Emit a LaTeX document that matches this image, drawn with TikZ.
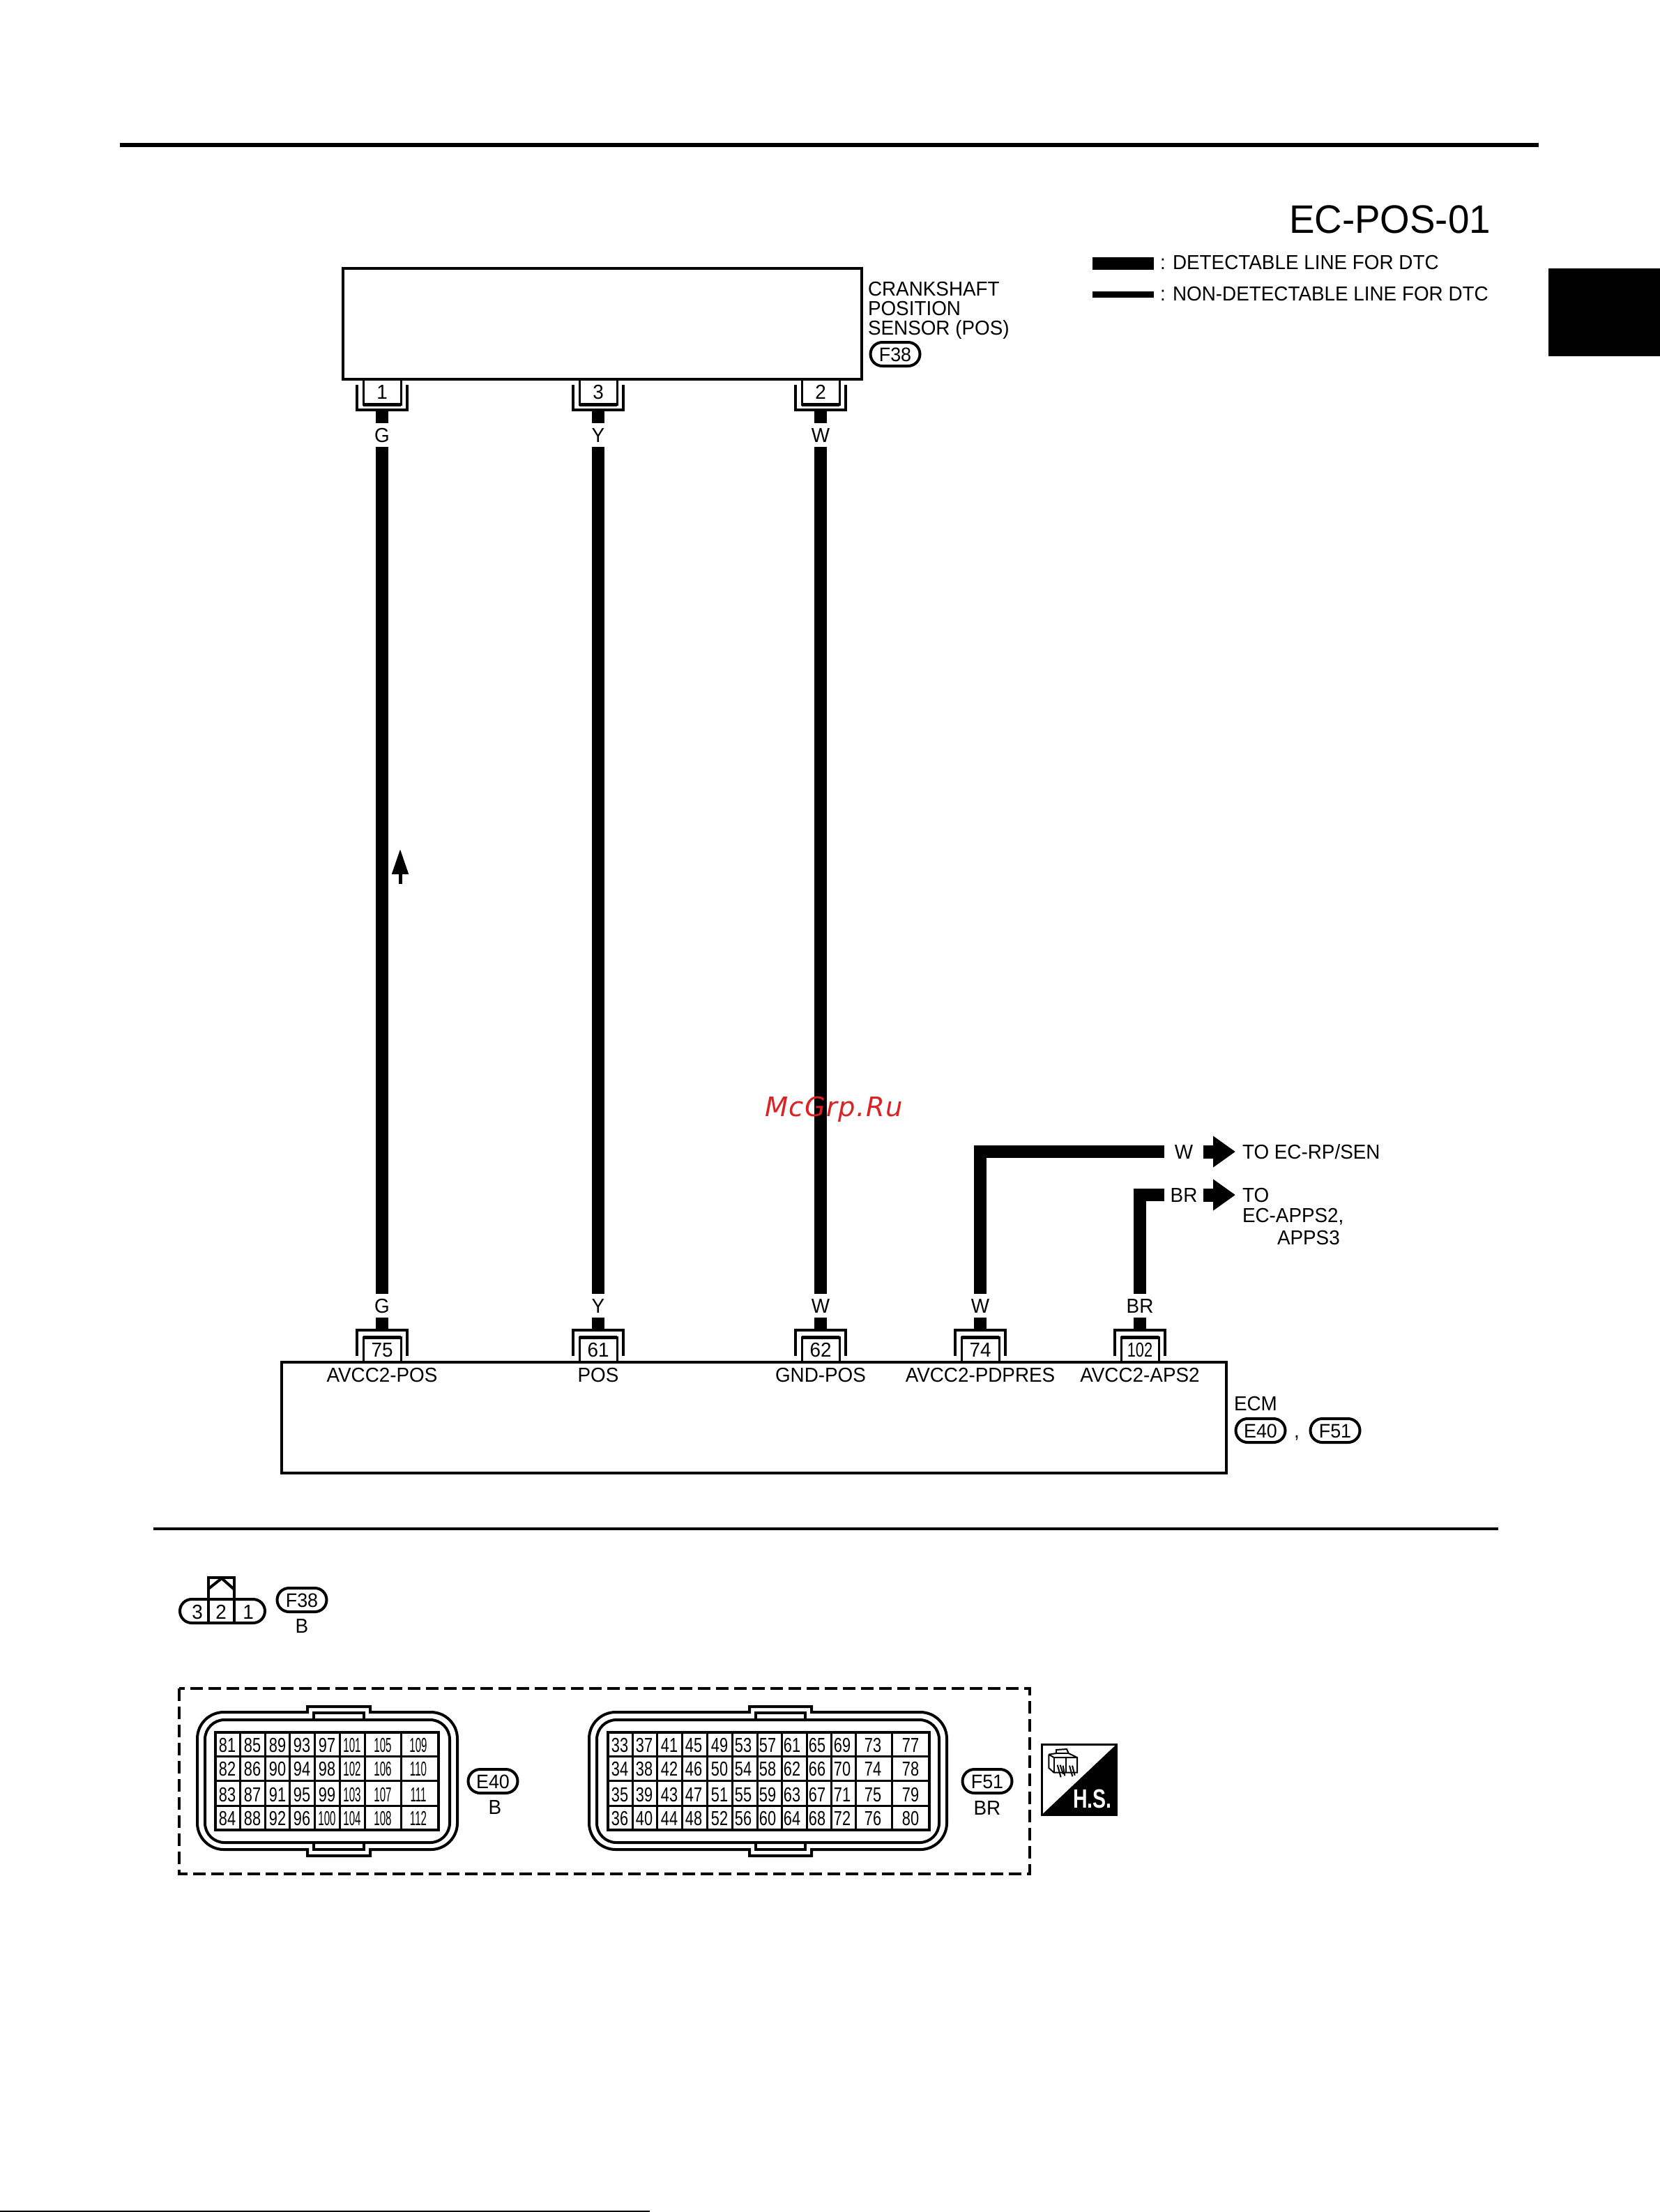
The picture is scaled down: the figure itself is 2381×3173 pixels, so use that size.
\documentclass[tikz,border=0pt]{standalone}
\usepackage{fontspec}
\setmainfont[FakeStretch=0.96]{Liberation Sans}
\newfontfamily\narrowfont[FakeStretch=0.75]{Liberation Sans}
\newfontfamily\narrowerfont[FakeStretch=0.52]{Liberation Sans}
\newfontfamily\markfont[LetterSpace=3.5]{DejaVu Sans}
\usetikzlibrary{arrows.meta}
\definecolor{markred}{RGB}{220, 35, 35}

% outer and inner wall of a multi-pin connector: left, right, tab left, tab right
\newcommand{\connshell}[4]{
  \draw[shell] (#3,2456) [rounded corners=38pt] -- (#1,2456) -- (#1,2653) [sharp corners]
    -- (#3,2653) -- (#3,2662) -- (#4,2662) -- (#4,2653) [rounded corners=38pt]
    -- (#2,2653) -- (#2,2456) [sharp corners] -- (#4,2456) -- (#4,2448) -- (#3,2448) -- cycle;
  \draw[shell, rounded corners=28pt] (#1+11,2467) rectangle (#2-11,2643);
  \draw[shell] (#3+9,2467) |- (#4-9,2457) -- (#4-9,2467);
  \draw[shell] (#3+9,2643) |- (#4-9,2653) -- (#4-9,2643);
}

\begin{document}
\begin{tikzpicture}[x=1pt, y=-1pt,
  lbl/.style={font=\fontsize{29}{31}\selectfont, inner sep=0pt, outer sep=0pt, text height=21pt, text depth=0pt},
  wirelbl/.style={lbl, minimum height=34pt},
  sidelbl/.style={lbl, minimum width=56pt},
  pinbox/.style={lbl, draw, line width=3pt, minimum width=54pt, minimum height=36pt},
  pinbrk/.style={line width=4pt},
  unitbox/.style={draw, line width=4pt, outer sep=0pt, inner sep=0pt},
  badge/.style={lbl, draw, line width=4pt, rounded corners=17pt, minimum width=71pt, minimum height=34pt,
    font=\fontsize{28}{30}\selectfont},
  wire/.style={line width=18pt},
  toarrow/.style={line width=19pt, shorten >=10pt, -{Triangle[length=32pt,width=43pt]}},
  shell/.style={line width=4pt},
  cellnum/.style={lbl},
]
\useasboundingbox (0,0) rectangle (2381,3173);

% Page furniture
\draw[line width=6pt] (172,208) -- (2207,208);
\draw[line width=4pt] (220,2193) -- (2149,2193);
\draw[line width=2pt] (0,3172) -- (932,3172);
\fill (2221,385) rectangle (2381,511);
\node[lbl, font=\fontsize{57}{60}\selectfont, text height=41pt, anchor=east] (title) at (2138,314) {EC-POS-01};

% Legend
\draw[line width=18pt] (1567,378) -- (1655,378);
\draw[line width=9pt] (1567,422) -- (1655,422);
\node[lbl, anchor=west] (legthick) at (1664,376) {: DETECTABLE LINE FOR DTC};
\node[lbl, anchor=west] (legthin) at (1664,421) {: NON-DETECTABLE LINE FOR DTC};

% Sensor
\node[unitbox, minimum width=744pt, minimum height=159pt] (sensor) at (864,464.5) {};
\node[lbl, anchor=west] (senname1) at (1245,414) {CRANKSHAFT};
\node[lbl, anchor=west] (senname2) at (1245,442) {POSITION};
\node[lbl, anchor=west] (senname3) at (1245,470) {SENSOR (POS)};
\node[badge] (senbadge) at (1284,508) {F38};

% ECM
\node[unitbox, minimum width=1355pt, minimum height=159pt] (ecm) at (1081.5,2033.5) {};
\node[lbl, anchor=west] (ecmname) at (1770,2013) {ECM};
\node[badge] (ecmbadge1) at (1808,2052) {E40};
\node[lbl] (ecmcomma) at (1860,2052) {,};
\node[badge] (ecmbadge2) at (1915,2052) {F51};

% Sensor pins
\foreach \px/\pnum/\wcol in {548/1/G, 858/3/Y, 1177/2/W} {
  \node[pinbox] (pin\pnum) at (\px,562) {\pnum};
  \draw[line width=5pt] (pin\pnum.south west) -- (pin\pnum.south east);
  \draw[pinbrk] (\px-36,552) |- (\px+36,588) -- (\px+36,552);
  \coordinate (brk\pnum) at (\px,588);
  \node[wirelbl] (wt\pnum) at (\px,624) {\wcol};
  \draw[wire] (brk\pnum) -- (wt\pnum.north);
}

% ECM pins
\foreach \px/\pnum/\ptext/\wcol/\pname in {548/75/75/G/AVCC2-POS, 858/61/61/Y/POS, 1177/62/62/W/GND-POS,
    1406/74/74/W/AVCC2-PDPRES, 1635/102/{\narrowfont 102}/BR/AVCC2-APS2} {
  \node[pinbox] (pin\pnum) at (\px,1936) {\ptext};
  \draw[line width=5pt] (pin\pnum.north west) -- (pin\pnum.north east);
  \draw[pinbrk] (\px-36,1945) |- (\px+36,1908) -- (\px+36,1945);
  \coordinate (brk\pnum) at (\px,1908);
  \node[wirelbl] (wl\pnum) at (\px,1873) {\wcol};
  \draw[wire] (wl\pnum.south) -- (brk\pnum);
  \node[lbl] (sig\pnum) at (\px,1972) {\pname};
}

% Detectable lines
\draw[wire] (wt1.south) -- (wl75.north);
\draw[wire] (wt3.south) -- (wl61.north);
\draw[wire] (wt2.south) -- (wl62.north);

% Signal direction
\coordinate (sigfrom) at (574,1268);
\coordinate (sigto) at (574,1218);
\draw[line width=5pt, -{Triangle[length=36pt,width=23pt]}] (sigfrom) -- (sigto);

% Branches to other pages
\node[sidelbl] (brW) at (1698,1652) {W};
\node[sidelbl] (brBR) at (1698,1714) {BR};
\draw[wire] (wl74.north) |- (brW.west);
\draw[wire] (wl102.north) |- (brBR.west);
\node[lbl, anchor=west] (toW) at (1782,1652) {TO EC-RP/SEN};
\node[lbl, anchor=west] (toBR) at (1782,1714) {TO};
\node[lbl, anchor=west] (toBR2) at (1782,1743) {EC-APPS2,};
\node[lbl, anchor=west] (toBR3) at (1832,1775) {APPS3};
\draw[toarrow] (brW.east) -- (toW.west);
\draw[toarrow] (brBR.east) -- (toBR.west);

% F38 connector face
\draw[shell, rounded corners=17pt] (258,2294) rectangle (380,2328);
\draw[shell] (299,2328) -- (299,2263) -- (336,2263) -- (336,2328);
\draw[shell] (299,2279) -- (318,2264) -- (336,2280);
\node[lbl] (f38a) at (283,2312) {3};
\node[lbl] (f38b) at (317,2312) {2};
\node[lbl] (f38c) at (356,2312) {1};
\node[badge] (facebadge1) at (433,2295) {F38};
\node[lbl] (facecol1) at (433,2332) {B};

% E40 and F51 connector faces
\draw[line width=4pt, dash pattern=on 18pt off 8pt] (257,2422) rectangle (1477,2688);
\connshell{283}{656}{441}{531}
\connshell{845}{1358}{1075}{1164}
\draw[line width=4pt] (309,2485) rectangle (629,2625);
\draw[line width=4pt] (872,2485) rectangle (1333,2625);
\foreach \ry in {2519,2554,2590} {
  \draw[line width=3pt] (309,\ry) -- (629,\ry);
  \draw[line width=3pt] (872,\ry) -- (1333,\ry);
}
\foreach \cx in {344,380,415,451,487,523,575}
  \draw[line width=3pt] (\cx,2485) -- (\cx,2625);
\foreach \cx in {907,942,978,1014,1050,1086,1121,1157,1192,1227,1279}
  \draw[line width=3pt] (\cx,2485) -- (\cx,2625);
\foreach \cx/\cn in {326/81,362/85,398/89,433/93,469/97,505/101,549/105,600/109,
    889/33,924/37,960/41,995/45,1032/49,1066/53,1101/57,1136/61,1172/65,1208/69,1252/73,1306/77}
  \foreach \r/\ry in {0/2503,1/2537,2/2574,3/2608} {
    \pgfmathtruncatemacro{\cnum}{\cn+\r}
    \node[cellnum] (cell\cnum) at (\cx,\ry) {\ifnum\cnum>99 \narrowerfont\else\narrowfont\fi\cnum};
  }
\node[badge] (facebadge2) at (707,2555) {E40};
\node[lbl] (facecol2) at (710,2592) {B};
\node[badge] (facebadge3) at (1416,2555) {F51};
\node[lbl] (facecol3) at (1416,2593) {BR};

% Harness symbol
\draw[line width=3pt] (1494.5,2502.5) rectangle (1601,2603);
\fill (1494.5,2603) -- (1601,2502.5) -- (1601,2603) -- cycle;
\node[lbl, font=\fontsize{38}{40}\narrowfont\bfseries, text height=27pt, text=white] (hstext) at (1567,2580) {H.S.};
\begin{scope}[shift={(1450,2460)}, x=0.3333pt, y=-0.3333pt, line width=2pt]
  \draw (163,170) -- (163,228) -- (185,248) -- (285,248) -- (285,183) -- (185,183) -- (163,170);
  \draw (185,183) -- (185,248);
  \draw (237,183) -- (237,248);
  \draw (163,170) -- (195,165) -- (195,150) -- (240,147) -- (248,165) -- (285,183);
  \draw (195,165) -- (248,165);
  \draw (200,215) -- (215,268);
  \draw (212,215) -- (225,255);
  \draw (224,218) -- (232,262);
  \draw (252,218) -- (265,265);
  \draw (264,218) -- (275,260);
\end{scope}

% Watermark
\node[lbl, anchor=base, text=markred, text height=, font=\fontsize{38.5}{40}\markfont\itshape] (mark) at (1196,1601) {McGrp.Ru};
\end{tikzpicture}
\end{document}
